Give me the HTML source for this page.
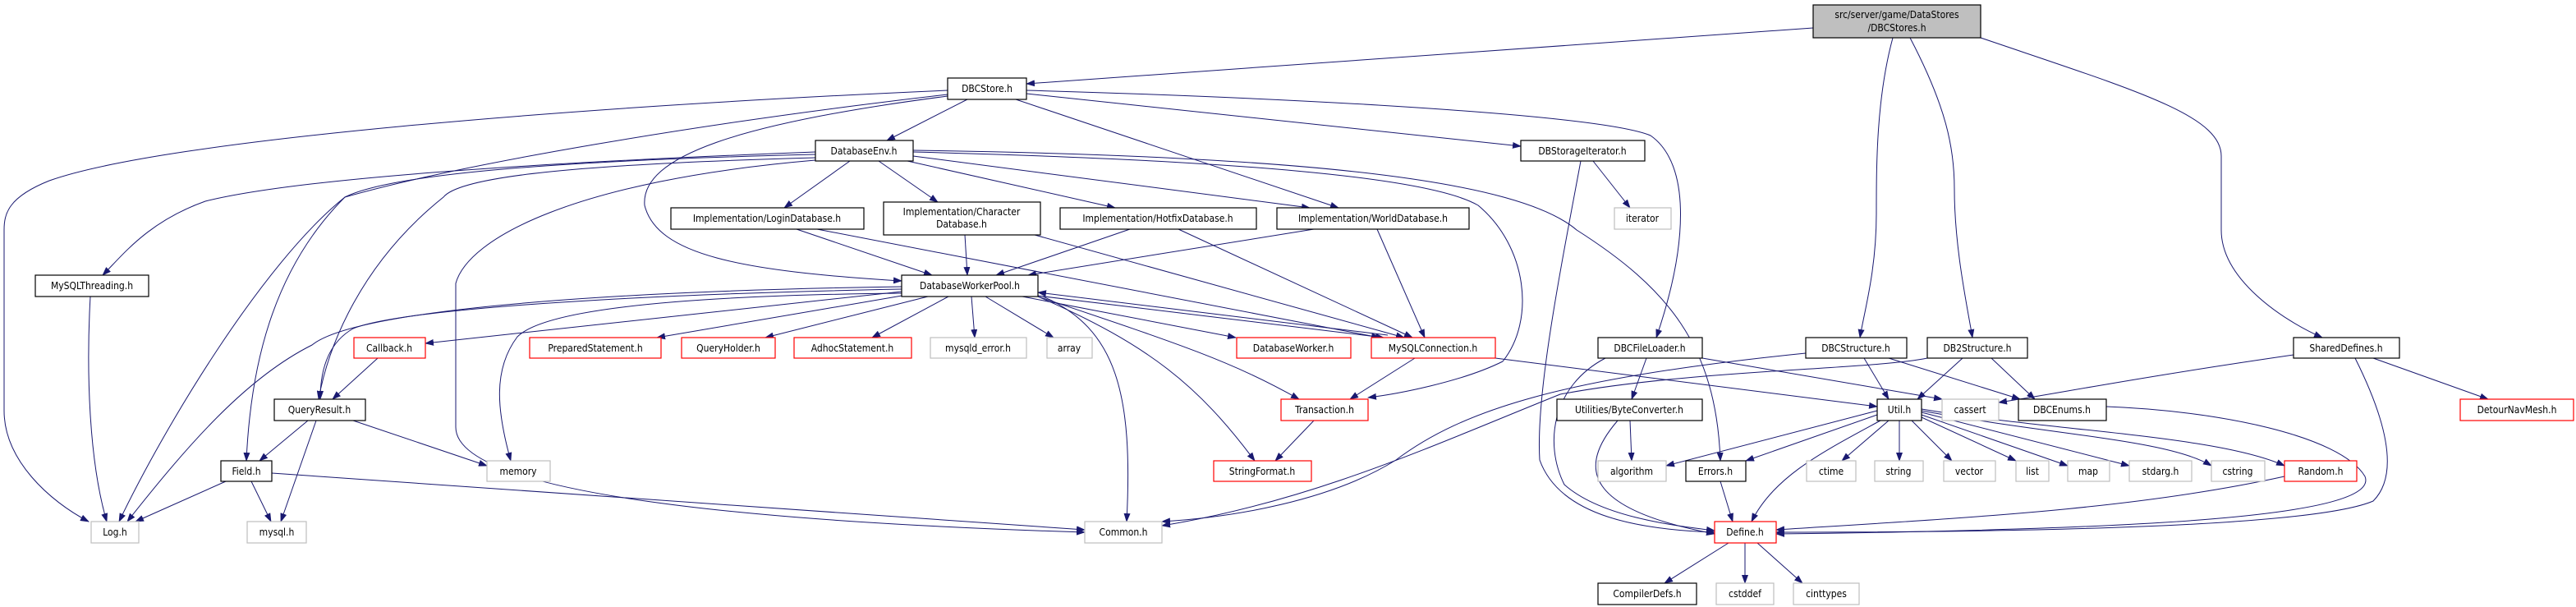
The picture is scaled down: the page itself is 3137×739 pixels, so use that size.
<!DOCTYPE html>
<html><head><meta charset="utf-8"><style>
html,body{margin:0;padding:0;background:#fff;}
svg{display:block;}
text{font-family:"DejaVu Sans Condensed","Liberation Sans",sans-serif;font-size:12px;fill:#000;}
.e{fill:none;stroke:#191970;stroke-width:1;marker-end:url(#a);}
.n{fill:#fff;stroke:#000;stroke-width:1.2;}
.g{fill:#fff;stroke:#bfbfbf;stroke-width:1.2;}
.r{fill:#fff;stroke:#ff0000;stroke-width:1.2;}
</style></head><body>
<svg width="3137" height="739" viewBox="0 0 3137 739" xmlns="http://www.w3.org/2000/svg">
<defs><marker id="a" markerWidth="11" markerHeight="8" refX="10" refY="4" orient="auto" markerUnits="userSpaceOnUse"><path d="M0,0 L11,4 L0,8 z" fill="#191970"/></marker></defs>
<g>
<!-- top -->
<path class="e" d="M2208,34 L1250,102"/>
<path class="e" d="M2305,46 C2285,120 2285,200 2285,260 C2285,330 2270,380 2265,411"/>
<path class="e" d="M2326,46 C2370,130 2380,180 2380,230 C2380,300 2395,370 2402,411"/>
<path class="e" d="M2412,46 C2600,110 2705,140 2705,190 L2705,280 C2705,340 2780,390 2828,411"/>
<!-- DBCStore -->
<path class="e" d="M1154,110 C700,130 200,170 60,220 C10,240 5,260 5,280 L5,500 C5,560 60,610 108,635"/>
<path class="e" d="M1178,121 L1080,171"/>
<path class="e" d="M1237,121 L1630,253"/>
<path class="e" d="M1250,114 L1852,178"/>
<path class="e" d="M1250,110 C1600,120 1950,140 2010,165 C2060,200 2055,300 2017,411"/>
<path class="e" d="M1154,117 C900,150 780,190 785,250 C800,310 900,330 1098,342"/>
<path class="e" d="M1154,115 C850,150 560,200 420,240 C330,330 305,450 300,561"/>
<!-- DatabaseEnv -->
<path class="e" d="M1035,196 L955,253"/>
<path class="e" d="M1070,196 L1142,246"/>
<path class="e" d="M1105,196 L1358,253"/>
<path class="e" d="M1112,190 L1595,253"/>
<path class="e" d="M993,185 C600,200 350,220 250,245 C180,270 150,310 125,335"/>
<path class="e" d="M993,188 C700,195 480,210 420,240 C320,320 200,520 145,635"/>
<path class="e" d="M993,192 C700,200 560,215 540,240 C440,320 400,420 388,486"/>
<path class="e" d="M993,195 C700,220 570,290 555,345 L555,520 C555,600 900,635 1321,648"/>
<path class="e" d="M1112,185 C1500,195 1740,215 1800,250 C1860,300 1870,390 1830,440 C1780,465 1700,480 1666,484"/>
<path class="e" d="M1112,183 C1600,190 1850,220 1920,280 C2030,350 2090,420 2095,561"/>
<!-- Impl -> DWP / MySQLConn -->
<path class="e" d="M970,279 L1135,335"/>
<path class="e" d="M995,279 L1680,411"/>
<path class="e" d="M1175,286 L1178,335"/>
<path class="e" d="M1260,286 L1710,411"/>
<path class="e" d="M1376,279 L1213,335"/>
<path class="e" d="M1435,279 L1720,411"/>
<path class="e" d="M1600,279 L1252,335"/>
<path class="e" d="M1677,279 L1735,411"/>
<!-- DBStorageIterator -->
<path class="e" d="M1940,196 L1985,253"/>
<path class="e" d="M1925,196 C1900,330 1870,480 1875,560 C1900,630 2000,645 2088,648"/>
<!-- DWP -->
<path class="e" d="M1098,355 L518,418"/>
<path class="e" d="M1110,358 L800,411"/>
<path class="e" d="M1130,361 L932,411"/>
<path class="e" d="M1155,361 L1062,411"/>
<path class="e" d="M1183,361 L1187,411"/>
<path class="e" d="M1200,361 L1283,411"/>
<path class="e" d="M1245,361 L1505,411"/>
<path class="e" d="M1255,359 L1685,411"/>
<path class="e" d="M1690,408 L1264,356"/>
<path class="e" d="M1264,361 C1440,420 1500,440 1582,486"/>
<path class="e" d="M1264,361 C1400,420 1460,470 1528,561"/>
<path class="e" d="M1270,361 C1360,400 1380,480 1372,635"/>
<path class="e" d="M1098,357 C800,360 660,380 630,410 C600,450 605,500 622,561"/>
<path class="e" d="M1098,352 C700,360 480,380 430,400 C395,420 390,460 390,486"/>
<path class="e" d="M1098,349 C700,355 430,380 380,420 C300,460 230,540 155,635"/>
<!-- lower left -->
<path class="e" d="M460,436 L405,486"/>
<path class="e" d="M375,512 L316,561"/>
<path class="e" d="M385,512 L342,635"/>
<path class="e" d="M430,512 L593,567"/>
<path class="e" d="M275,586 L165,635"/>
<path class="e" d="M306,586 L330,635"/>
<path class="e" d="M331,576 L1321,645"/>
<path class="e" d="M110,361 C105,450 108,560 130,635"/>
<!-- middle -->
<path class="e" d="M1600,512 L1553,561"/>
<path class="e" d="M1723,436 L1644,486"/>
<path class="e" d="M1821,436 L2286,495"/>
<path class="e" d="M2005,436 L1987,486"/>
<path class="e" d="M1955,436 C1890,470 1880,540 1905,590 C1950,630 2040,640 2088,646"/>
<path class="e" d="M2073,436 L2365,486"/>
<path class="e" d="M1985,512 L1987,561"/>
<path class="e" d="M1970,512 C1920,570 1930,620 2088,650"/>
<path class="e" d="M2095,586 L2110,635"/>
<!-- structures -->
<path class="e" d="M2199,430 C1900,460 1780,500 1700,560 C1620,610 1500,630 1415,635"/>
<path class="e" d="M2347,436 C2280,450 2060,450 1900,480 C1750,540 1600,610 1415,640"/>
<path class="e" d="M2270,436 L2300,486"/>
<path class="e" d="M2300,436 L2460,486"/>
<path class="e" d="M2390,436 L2335,486"/>
<path class="e" d="M2425,436 L2478,486"/>
<!-- SharedDefines -->
<path class="e" d="M2793,432 C2600,460 2500,480 2434,490"/>
<path class="e" d="M2890,436 L3030,486"/>
<path class="e" d="M2868,436 C2910,520 2920,580 2890,610 C2820,640 2500,648 2163,648"/>
<path class="e" d="M2565,495 C2700,500 2850,530 2880,580 C2900,630 2600,645 2163,650"/>
<!-- Util -->
<path class="e" d="M2286,500 L2029,567"/>
<path class="e" d="M2286,505 L2126,561"/>
<path class="e" d="M2290,512 C2220,550 2160,580 2133,635"/>
<path class="e" d="M2300,512 L2243,561"/>
<path class="e" d="M2313,512 L2313,561"/>
<path class="e" d="M2328,512 L2377,561"/>
<path class="e" d="M2340,508 L2455,561"/>
<path class="e" d="M2340,505 L2518,567"/>
<path class="e" d="M2340,502 L2593,567"/>
<path class="e" d="M2340,500 C2500,530 2640,535 2693,567"/>
<path class="e" d="M2340,498 C2500,525 2700,530 2782,567"/>
<path class="e" d="M2782,580 C2600,620 2400,630 2163,645"/>
<!-- Define -->
<path class="e" d="M2105,661 L2027,710"/>
<path class="e" d="M2125,661 L2125,710"/>
<path class="e" d="M2140,661 L2195,710"/>
</g>
<g>
<rect x="2208" y="6" width="204" height="40" fill="#bfbfbf" stroke="#000" stroke-width="1.2"/>
<text x="2310" y="22" text-anchor="middle">src/server/game/DataStores</text>
<text x="2310" y="38" text-anchor="middle">/DBCStores.h</text>

<rect class="n" x="1154" y="95" width="96" height="26"/><text x="1202" y="112" text-anchor="middle">DBCStore.h</text>
<rect class="n" x="993" y="171" width="119" height="25"/><text x="1052" y="188" text-anchor="middle">DatabaseEnv.h</text>
<rect class="n" x="1852" y="171" width="151" height="25"/><text x="1927" y="188" text-anchor="middle">DBStorageIterator.h</text>
<rect class="n" x="817" y="253" width="235" height="26"/><text x="934" y="270" text-anchor="middle">Implementation/LoginDatabase.h</text>
<rect class="n" x="1076" y="246" width="191" height="40"/><text x="1171" y="262" text-anchor="middle">Implementation/Character</text><text x="1171" y="277" text-anchor="middle">Database.h</text>
<rect class="n" x="1291" y="253" width="239" height="26"/><text x="1410" y="270" text-anchor="middle">Implementation/HotfixDatabase.h</text>
<rect class="n" x="1555" y="253" width="234" height="26"/><text x="1672" y="270" text-anchor="middle">Implementation/WorldDatabase.h</text>
<rect class="g" x="1966" y="253" width="69" height="26"/><text x="2000" y="270" text-anchor="middle">iterator</text>
<rect class="n" x="43" y="335" width="138" height="26"/><text x="112" y="352" text-anchor="middle">MySQLThreading.h</text>
<rect class="n" x="1098" y="335" width="166" height="26"/><text x="1181" y="352" text-anchor="middle">DatabaseWorkerPool.h</text>

<rect class="r" x="431" y="411" width="87" height="25"/><text x="474" y="428" text-anchor="middle">Callback.h</text>
<rect class="r" x="645" y="411" width="160" height="25"/><text x="725" y="428" text-anchor="middle">PreparedStatement.h</text>
<rect class="r" x="830" y="411" width="114" height="25"/><text x="887" y="428" text-anchor="middle">QueryHolder.h</text>
<rect class="r" x="967" y="411" width="143" height="25"/><text x="1038" y="428" text-anchor="middle">AdhocStatement.h</text>
<rect class="g" x="1133" y="411" width="117" height="25"/><text x="1191" y="428" text-anchor="middle">mysqld_error.h</text>
<rect class="g" x="1275" y="411" width="55" height="25"/><text x="1302" y="428" text-anchor="middle">array</text>
<rect class="r" x="1506" y="411" width="139" height="25"/><text x="1575" y="428" text-anchor="middle">DatabaseWorker.h</text>
<rect class="r" x="1670" y="411" width="151" height="25"/><text x="1745" y="428" text-anchor="middle">MySQLConnection.h</text>
<rect class="n" x="1946" y="411" width="127" height="25"/><text x="2009" y="428" text-anchor="middle">DBCFileLoader.h</text>
<rect class="n" x="2199" y="411" width="123" height="25"/><text x="2260" y="428" text-anchor="middle">DBCStructure.h</text>
<rect class="n" x="2347" y="411" width="122" height="25"/><text x="2408" y="428" text-anchor="middle">DB2Structure.h</text>
<rect class="n" x="2793" y="411" width="129" height="25"/><text x="2857" y="428" text-anchor="middle">SharedDefines.h</text>

<rect class="n" x="334" y="486" width="111" height="26"/><text x="389" y="503" text-anchor="middle">QueryResult.h</text>
<rect class="r" x="1560" y="486" width="106" height="26"/><text x="1613" y="503" text-anchor="middle">Transaction.h</text>
<rect class="n" x="1896" y="486" width="177" height="26"/><text x="1984" y="503" text-anchor="middle">Utilities/ByteConverter.h</text>
<rect class="n" x="2286" y="486" width="54" height="26"/><text x="2313" y="503" text-anchor="middle">Util.h</text>
<rect class="g" x="2365" y="486" width="69" height="26"/><text x="2399" y="503" text-anchor="middle">cassert</text>
<rect class="n" x="2458" y="486" width="107" height="26"/><text x="2511" y="503" text-anchor="middle">DBCEnums.h</text>
<rect class="r" x="2996" y="486" width="138" height="26"/><text x="3065" y="503" text-anchor="middle">DetourNavMesh.h</text>

<rect class="n" x="269" y="561" width="62" height="25"/><text x="300" y="578" text-anchor="middle">Field.h</text>
<rect class="g" x="593" y="561" width="77" height="25"/><text x="631" y="578" text-anchor="middle">memory</text>
<rect class="r" x="1478" y="561" width="119" height="25"/><text x="1537" y="578" text-anchor="middle">StringFormat.h</text>
<rect class="g" x="1946" y="561" width="83" height="25"/><text x="1987" y="578" text-anchor="middle">algorithm</text>
<rect class="n" x="2053" y="561" width="73" height="25"/><text x="2089" y="578" text-anchor="middle">Errors.h</text>
<rect class="g" x="2200" y="561" width="60" height="25"/><text x="2230" y="578" text-anchor="middle">ctime</text>
<rect class="g" x="2283" y="561" width="59" height="25"/><text x="2312" y="578" text-anchor="middle">string</text>
<rect class="g" x="2367" y="561" width="63" height="25"/><text x="2398" y="578" text-anchor="middle">vector</text>
<rect class="g" x="2455" y="561" width="40" height="25"/><text x="2475" y="578" text-anchor="middle">list</text>
<rect class="g" x="2518" y="561" width="51" height="25"/><text x="2543" y="578" text-anchor="middle">map</text>
<rect class="g" x="2593" y="561" width="76" height="25"/><text x="2631" y="578" text-anchor="middle">stdarg.h</text>
<rect class="g" x="2693" y="561" width="65" height="25"/><text x="2725" y="578" text-anchor="middle">cstring</text>
<rect class="r" x="2782" y="561" width="88" height="25"/><text x="2826" y="578" text-anchor="middle">Random.h</text>

<rect class="g" x="111" y="635" width="58" height="26"/><text x="140" y="652" text-anchor="middle">Log.h</text>
<rect class="g" x="301" y="635" width="72" height="26"/><text x="337" y="652" text-anchor="middle">mysql.h</text>
<rect class="g" x="1321" y="635" width="94" height="26"/><text x="1368" y="652" text-anchor="middle">Common.h</text>
<rect class="r" x="2088" y="635" width="75" height="26"/><text x="2125" y="652" text-anchor="middle">Define.h</text>

<rect class="n" x="1946" y="710" width="120" height="26"/><text x="2006" y="727" text-anchor="middle">CompilerDefs.h</text>
<rect class="g" x="2090" y="710" width="70" height="26"/><text x="2125" y="727" text-anchor="middle">cstddef</text>
<rect class="g" x="2184" y="710" width="80" height="26"/><text x="2224" y="727" text-anchor="middle">cinttypes</text>
</g>
</svg>
</body></html>
